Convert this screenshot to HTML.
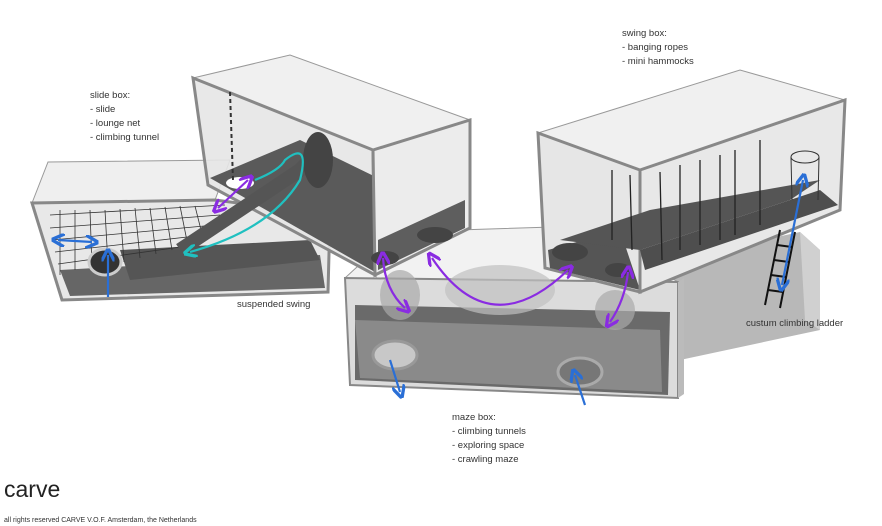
<!DOCTYPE html>
<html><head><meta charset="utf-8"><style>
html,body{margin:0;padding:0;background:#fff}
svg{display:block}
text{font-family:"Liberation Sans",sans-serif;fill:#333}
</style></head><body>
<svg width="882" height="526" viewBox="0 0 882 526" xmlns="http://www.w3.org/2000/svg">
<defs>
<marker id="ap" markerWidth="6" markerHeight="6" refX="3" refY="3" orient="auto-start-reverse"><path d="M0,0 L6,3 L0,6" fill="none" stroke="#8a2be2" stroke-width="1.5"/></marker>
<marker id="ab" markerWidth="6" markerHeight="6" refX="3" refY="3" orient="auto-start-reverse"><path d="M0,0 L6,3 L0,6" fill="none" stroke="#2a6fd6" stroke-width="1.5"/></marker>
<marker id="ac" markerWidth="6" markerHeight="6" refX="3" refY="3" orient="auto-start-reverse"><path d="M0,0 L6,3 L0,6" fill="none" stroke="#20c0c0" stroke-width="1.5"/></marker>
</defs>
<!-- right slab behind maze -->
<polygon points="660,262 800,232 820,250 820,330 680,360 660,340" fill="#b8b8b8"/>
<polygon points="800,232 820,250 820,330 805,320" fill="#d0d0d0"/>
<!-- maze box -->
<polygon points="345,278 395,232 585,226 678,282" fill="#f2f2f2" stroke="#999"/>
<polygon points="345,278 678,282 678,398 350,385" fill="#dcdcdc" stroke="#888" stroke-width="2"/>
<polygon points="355,305 670,312 668,395 355,380" fill="#6a6a6a"/>
<polygon points="355,320 660,330 662,392 360,378" fill="#8a8a8a"/>
<polygon points="678,282 684,278 684,394 678,398" fill="#bbb"/>
<ellipse cx="395" cy="355" rx="22" ry="14" fill="#c8c8c8" stroke="#999" stroke-width="3"/>
<ellipse cx="580" cy="372" rx="22" ry="14" fill="#777" stroke="#aaa" stroke-width="3"/>
<ellipse cx="500" cy="290" rx="55" ry="25" fill="#c0c0c0" opacity=".7"/>
<ellipse cx="400" cy="295" rx="20" ry="25" fill="#aaa" opacity=".7"/>
<ellipse cx="615" cy="310" rx="20" ry="20" fill="#aaa" opacity=".7"/>
<!-- left slide box -->
<polygon points="32,203 48,162 230,160 215,200" fill="#efefef" stroke="#999"/>
<polygon points="32,203 215,200 330,215 328,292 62,300" fill="#e8e8e8" stroke="#888" stroke-width="3"/>
<polygon points="60,270 320,255 325,288 70,296" fill="#666"/>
<polygon points="120,250 310,240 320,260 130,280" fill="#555"/>
<g stroke="#333" stroke-width="0.8">
<path d="M60,210 L60,275 M75,210 L75,270 M90,210 L92,268 M105,210 L108,265 M120,209 L124,262 M135,208 L140,258 M150,208 L156,254 M165,207 L172,250 M180,206 L188,246 M195,206 L204,242"/>
<path d="M50,215 L225,205 M50,228 L220,215 M52,240 L215,225 M55,252 L205,235 M58,264 L195,245"/>
</g>
<ellipse cx="105" cy="262" rx="16" ry="13" fill="#333" stroke="#ccc" stroke-width="3"/>
<!-- top slide box -->
<polygon points="193,78 290,55 470,120 373,150" fill="#f0f0f0" stroke="#999"/>
<polygon points="193,78 373,150 375,275 208,185" fill="#e6e6e6" stroke="#888" stroke-width="3" fill-opacity=".9"/>
<polygon points="210,178 300,140 468,222 375,272" fill="#5a5a5a"/>
<polygon points="373,150 470,120 470,228 375,275" fill="#ececec" stroke="#888" stroke-width="3"/>
<polygon points="378,270 465,228 465,200 378,240" fill="#5e5e5e"/>
<ellipse cx="435" cy="235" rx="18" ry="8" fill="#444"/>
<ellipse cx="385" cy="258" rx="14" ry="7" fill="#444"/>
<ellipse cx="240" cy="183" rx="14" ry="6" fill="#fff"/>
<path d="M230,92 L233,180" stroke="#333" stroke-width="2" stroke-dasharray="4,3"/>
<path d="M180,250 L300,170 L320,150" stroke="#555" stroke-width="14" fill="none"/>
<ellipse cx="318" cy="160" rx="15" ry="28" fill="#444"/>
<!-- swing box -->
<polygon points="538,133 740,70 845,100 640,170" fill="#f0f0f0" stroke="#999"/>
<polygon points="538,133 640,170 640,292 545,268" fill="#e6e6e6" stroke="#888" stroke-width="3"/>
<polygon points="548,250 620,230 640,290 550,268" fill="#555"/>
<polygon points="640,170 845,100 840,210 640,292" fill="#e8e8e8" stroke="#888" stroke-width="3"/>
<polygon points="645,270 640,250 820,190 838,205" fill="#4e4e4e"/>
<polygon points="560,240 650,210 820,180 790,200 640,250" fill="#555"/>
<ellipse cx="570" cy="252" rx="18" ry="9" fill="#444"/>
<ellipse cx="618" cy="270" rx="13" ry="7" fill="#444"/>
<g stroke="#222" stroke-width="1.3">
<path d="M612,170 L612,240 M630,175 L632,250 M660,172 L662,260 M680,165 L680,250 M700,160 L700,245 M720,155 L720,240 M735,150 L735,235 M760,140 L760,225 M700,165 L700,215"/>
</g>
<ellipse cx="805" cy="157" rx="14" ry="6" fill="none" stroke="#333"/>
<path d="M791,157 L792,200 M819,157 L818,200" stroke="#333"/>
<!-- ladder -->
<g stroke="#111" stroke-width="2"><path d="M780,230 L765,305 M795,232 L780,308"/><path d="M777,245 L792,247 M774,260 L789,262 M771,275 L786,277 M768,290 L783,292"/></g>
<!-- arrows -->
<g fill="none" stroke-width="2.2">
<path d="M255,180 Q280,170 285,160 Q310,140 300,180 Q270,230 190,252" stroke="#20c0c0" marker-end="url(#ac)"/>
<path d="M218,208 L248,180" stroke="#8a2be2" marker-start="url(#ap)" marker-end="url(#ap)"/>
<path d="M383,258 Q385,290 405,308" stroke="#8a2be2" marker-start="url(#ap)" marker-end="url(#ap)"/>
<path d="M432,258 Q490,345 568,270" stroke="#8a2be2" marker-start="url(#ap)" marker-end="url(#ap)"/>
<path d="M610,322 Q625,300 628,272" stroke="#8a2be2" marker-start="url(#ap)" marker-end="url(#ap)"/>
<path d="M108,255 L108,297" stroke="#2a6fd6" marker-start="url(#ab)"/>
<path d="M58,240 L92,242" stroke="#2a6fd6" marker-start="url(#ab)" marker-end="url(#ab)"/>
<path d="M390,360 L400,392" stroke="#2a6fd6" marker-end="url(#ab)"/>
<path d="M575,375 L585,405" stroke="#2a6fd6" marker-start="url(#ab)"/>
<path d="M803,180 L782,285" stroke="#2a6fd6" marker-start="url(#ab)" marker-end="url(#ab)"/>
</g>
<!-- labels -->
<g font-size="9.5">
<text x="90" y="98">slide box:</text>
<text x="90" y="112">- slide</text>
<text x="90" y="126">- lounge net</text>
<text x="90" y="140">- climbing tunnel</text>
<text x="622" y="36">swing box:</text>
<text x="622" y="50">- banging ropes</text>
<text x="622" y="64">- mini hammocks</text>
<text x="237" y="307">suspended swing</text>
<text x="746" y="326">custum climbing ladder</text>
<text x="452" y="420">maze box:</text>
<text x="452" y="434">- climbing tunnels</text>
<text x="452" y="448">- exploring space</text>
<text x="452" y="462">- crawling maze</text>
</g>
<text x="4" y="497" font-size="23" style="fill:#222">carve</text>
<text x="4" y="522" font-size="7">all rights reserved CARVE V.O.F. Amsterdam, the Netherlands</text>
</svg>
</body></html>
